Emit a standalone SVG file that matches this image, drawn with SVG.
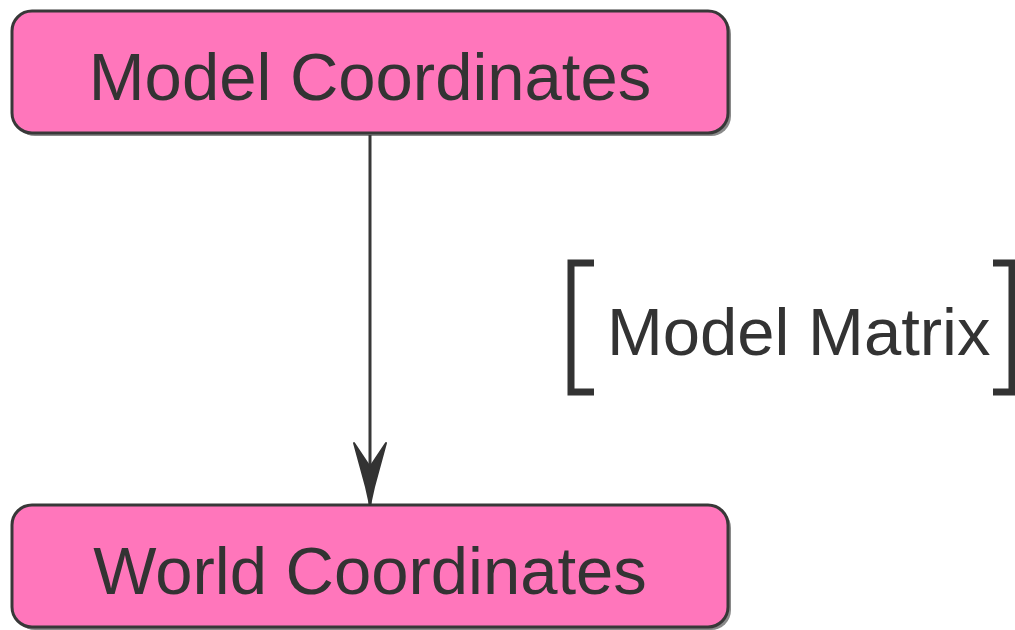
<svg xmlns="http://www.w3.org/2000/svg" width="1015" height="630" viewBox="0 0 1015 630">
  <style>
    .node .box { fill: #ff76bb; stroke: #383838; stroke-width: 3; }
    .node .shadow { fill: #8a8a8a; }
    .label { font-family: "Liberation Sans", Arial, sans-serif; font-size: 67px; fill: #333333; }
    .edge { stroke: #383838; stroke-width: 3; fill: none; }
    .bracket { stroke: #333333; stroke-width: 7; fill: none; }
  </style>
  <defs>
    <!-- arrowhead drawn along +x; tip at (64,18) -->
    <marker id="arrow" viewBox="0 0 66 36" refX="64" refY="18" markerWidth="66" markerHeight="36" markerUnits="userSpaceOnUse" orient="auto">
      <path d="M2,2 L26,18 L2,34 L46,22 L64,18 L46,14 Z" fill="#333333" stroke="#333333" stroke-width="2" stroke-linejoin="round"/>
    </marker>
  </defs>

  <g id="node-model" class="node">
    <rect class="shadow" x="15" y="14" width="716" height="122" rx="20"/>
    <rect class="box" x="12" y="11" width="716" height="122" rx="20"/>
    <text class="label" x="370" y="100" text-anchor="middle">Model Coordinates</text>
  </g>

  <g id="node-world" class="node">
    <rect class="shadow" x="15" y="508" width="716" height="122" rx="20"/>
    <rect class="box" x="12" y="505" width="716" height="122" rx="20"/>
    <text class="label" x="370" y="594" text-anchor="middle">World Coordinates</text>
  </g>

  <g id="connectors">
    <line class="edge" x1="370" y1="135" x2="370" y2="505" marker-end="url(#arrow)"/>
    <g id="edge-label">
      <path class="bracket" d="M594,263 L571,263 L571,392 L594,392"/>
      <path class="bracket" d="M993,263 L1012,263 L1012,392 L993,392"/>
      <text class="label" x="607" y="355">Model Matrix</text>
    </g>
  </g>
</svg>
